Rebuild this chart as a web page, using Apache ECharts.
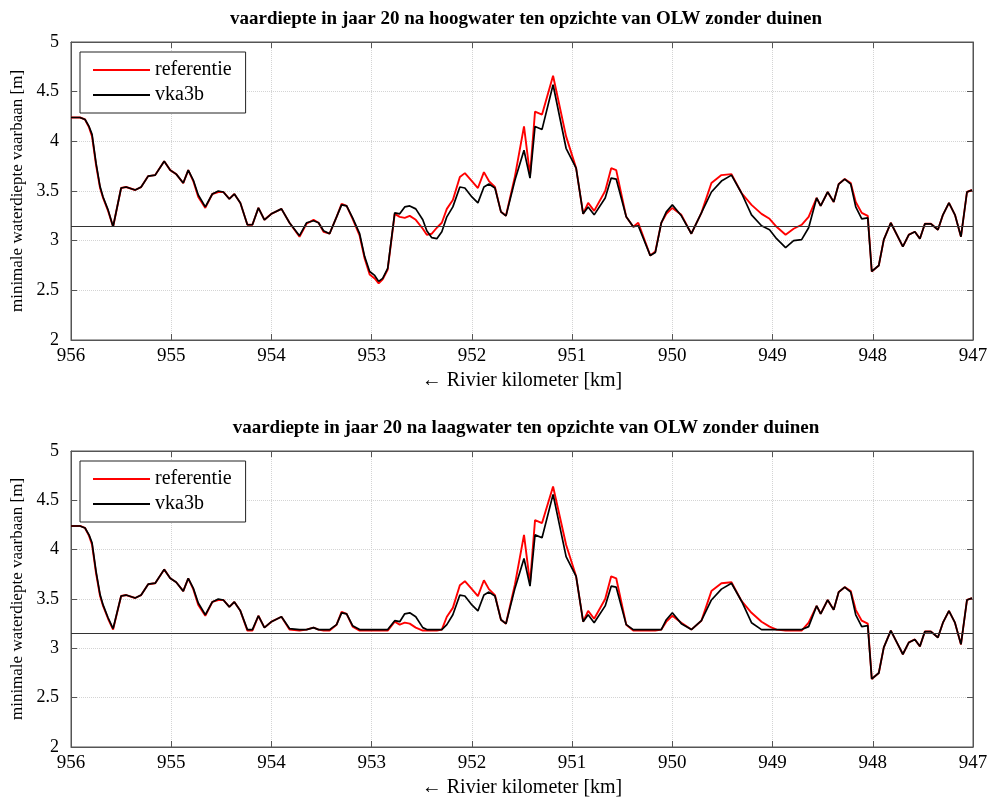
<!DOCTYPE html>
<html><head><meta charset="utf-8">
<script src="https://cdn.jsdelivr.net/npm/echarts@6/dist/echarts.min.js"></script>
<style>html,body{margin:0;padding:0;background:#fff}#c{width:995px;height:804px}</style>
</head><body><div id="c"></div>
<script>
// River kilometre positions (shared by all series)
const km = [956.00,955.91,955.86,955.82,955.79,955.75,955.71,955.68,955.63,955.58,
955.50,955.45,955.36,955.30,955.23,955.16,955.07,955.01,954.95,954.88,
954.83,954.78,954.73,954.66,954.59,954.53,954.48,954.42,954.37,954.31,
954.24,954.19,954.13,954.07,954.00,953.90,953.82,953.72,953.65,953.58,
953.53,953.48,953.42,953.35,953.30,953.25,953.19,953.12,953.07,953.02,
952.97,952.93,952.89,952.84,952.77,952.72,952.67,952.62,952.56,952.49,
952.45,952.40,952.35,952.30,952.25,952.19,952.12,952.07,952.00,951.94,
951.88,951.83,951.77,951.71,951.66,951.57,951.48,951.42,951.37,951.30,
951.19,951.06,950.96,950.89,950.84,950.78,950.67,950.61,950.56,950.46,
950.39,950.34,950.22,950.17,950.11,950.06,950.00,949.91,949.81,949.71,
949.61,949.51,949.41,949.31,949.21,949.11,949.03,948.96,948.87,948.79,
948.71,948.64,948.56,948.52,948.45,948.39,948.34,948.28,948.22,948.17,
948.11,948.05,948.01,947.94,947.89,947.82,947.76,947.70,947.64,947.58,
947.53,947.48,947.42,947.35,947.30,947.24,947.18,947.12,947.06,947.01];

// Top panel: hoogwater
const refHoog = [4.24,4.24,4.22,4.14,4.05,3.76,3.53,3.43,3.30,3.14,
3.53,3.54,3.51,3.54,3.65,3.66,3.80,3.71,3.67,3.58,
3.71,3.60,3.44,3.33,3.47,3.49,3.49,3.42,3.47,3.38,
3.16,3.16,3.33,3.21,3.27,3.32,3.18,3.04,3.17,3.21,
3.18,3.09,3.07,3.24,3.37,3.35,3.22,3.05,2.82,2.66,
2.62,2.57,2.61,2.71,3.27,3.24,3.23,3.25,3.21,3.12,
3.06,3.07,3.13,3.18,3.32,3.41,3.64,3.68,3.60,3.53,
3.69,3.60,3.54,3.29,3.25,3.65,4.15,3.66,4.30,4.27,
4.66,4.05,3.73,3.27,3.38,3.30,3.50,3.73,3.71,3.24,
3.14,3.18,2.85,2.89,3.18,3.27,3.33,3.26,3.07,3.28,
3.58,3.66,3.67,3.48,3.36,3.27,3.22,3.14,3.06,3.12,
3.16,3.24,3.43,3.35,3.49,3.39,3.57,3.62,3.58,3.39,
3.28,3.25,2.69,2.75,3.01,3.18,3.06,2.94,3.06,3.09,
3.02,3.17,3.17,3.11,3.26,3.38,3.26,3.04,3.49,3.51];
const vkaHoog = [4.24,4.24,4.22,4.15,4.07,3.78,3.545,3.44,3.31,3.14,
3.53,3.54,3.51,3.54,3.65,3.66,3.80,3.71,3.67,3.58,
3.71,3.61,3.46,3.34,3.47,3.50,3.49,3.42,3.47,3.38,
3.16,3.16,3.33,3.21,3.27,3.32,3.18,3.05,3.18,3.20,
3.18,3.10,3.07,3.24,3.36,3.35,3.23,3.07,2.84,2.69,
2.65,2.59,2.62,2.72,3.28,3.27,3.34,3.35,3.32,3.21,
3.10,3.03,3.02,3.09,3.24,3.34,3.54,3.53,3.44,3.38,
3.54,3.57,3.53,3.29,3.25,3.61,3.91,3.63,4.15,4.12,
4.57,3.93,3.73,3.27,3.34,3.26,3.43,3.63,3.62,3.24,
3.14,3.15,2.85,2.88,3.18,3.29,3.36,3.25,3.07,3.28,
3.49,3.60,3.66,3.48,3.26,3.15,3.11,3.02,2.93,3.00,
3.01,3.13,3.43,3.35,3.49,3.39,3.57,3.62,3.57,3.34,
3.22,3.23,2.69,2.75,3.01,3.18,3.06,2.94,3.06,3.09,
3.02,3.17,3.17,3.11,3.26,3.38,3.26,3.04,3.49,3.51];

// Bottom panel: laagwater
const refLaag = [4.24,4.24,4.22,4.14,4.05,3.76,3.53,3.43,3.30,3.19,
3.53,3.54,3.51,3.54,3.65,3.66,3.80,3.71,3.67,3.58,
3.71,3.60,3.44,3.33,3.47,3.49,3.49,3.42,3.47,3.38,
3.18,3.18,3.33,3.21,3.27,3.32,3.19,3.18,3.19,3.21,
3.19,3.18,3.18,3.24,3.37,3.35,3.22,3.18,3.18,3.18,
3.18,3.18,3.18,3.18,3.27,3.24,3.26,3.25,3.21,3.18,
3.18,3.18,3.18,3.19,3.32,3.41,3.64,3.68,3.60,3.53,
3.69,3.60,3.54,3.29,3.25,3.65,4.15,3.66,4.30,4.27,
4.64,4.05,3.73,3.27,3.38,3.30,3.50,3.73,3.71,3.24,
3.18,3.18,3.18,3.18,3.19,3.27,3.33,3.26,3.19,3.28,
3.58,3.66,3.67,3.48,3.36,3.27,3.22,3.19,3.18,3.18,
3.18,3.26,3.43,3.35,3.49,3.39,3.57,3.62,3.58,3.39,
3.28,3.25,2.69,2.75,3.01,3.18,3.06,2.94,3.06,3.09,
3.02,3.17,3.17,3.11,3.26,3.38,3.26,3.04,3.49,3.51];
const vkaLaag = [4.24,4.24,4.22,4.15,4.07,3.78,3.545,3.44,3.31,3.20,
3.53,3.54,3.51,3.54,3.65,3.66,3.80,3.71,3.67,3.58,
3.71,3.61,3.46,3.34,3.47,3.50,3.49,3.42,3.47,3.38,
3.19,3.19,3.33,3.21,3.27,3.32,3.20,3.19,3.19,3.21,
3.19,3.19,3.19,3.24,3.36,3.35,3.23,3.19,3.19,3.19,
3.19,3.19,3.19,3.19,3.28,3.27,3.35,3.36,3.32,3.21,
3.19,3.19,3.19,3.19,3.24,3.34,3.54,3.53,3.44,3.38,
3.54,3.57,3.53,3.29,3.25,3.61,3.91,3.63,4.15,4.12,
4.56,3.93,3.73,3.27,3.34,3.26,3.43,3.63,3.62,3.24,
3.19,3.19,3.19,3.19,3.19,3.29,3.36,3.25,3.19,3.28,
3.49,3.60,3.66,3.48,3.26,3.19,3.19,3.19,3.19,3.19,
3.19,3.22,3.43,3.35,3.49,3.39,3.57,3.62,3.57,3.34,
3.22,3.23,2.69,2.75,3.01,3.18,3.06,2.94,3.06,3.09,
3.02,3.17,3.17,3.11,3.26,3.38,3.26,3.04,3.49,3.51];

const refLevel = 3.15;
const titles = ['vaardiepte in jaar 20 na hoogwater ten opzichte van OLW zonder duinen',
                'vaardiepte in jaar 20 na laagwater ten opzichte van OLW zonder duinen'];
const seriesNames = ['referentie', 'vka3b'];
const xName = '\u2190 Rivier kilometer [km]';
const yName = 'minimale waterdiepte vaarbaan [m]';

const FONT = '"Liberation Serif","Times New Roman",serif';
const pair = arr => km.map((k, i) => [k, arr[i]]);

const grids = [
  {left: 71, right: 22, top: 42, height: 298},
  {left: 71, right: 22, top: 451, height: 296}
];
const panels = [[refHoog, vkaHoog], [refLaag, vkaLaag]];

const chart = echarts.init(document.getElementById('c'), null, {renderer: 'canvas'});
const opt = {
  animation: false,
  backgroundColor: '#fff',
  grid: grids.map(g => Object.assign({show: true, borderColor: '#555', borderWidth: 1, backgroundColor: 'transparent'}, g)),
  graphic: grids.map((g, i) => ({
    type: 'text', x: 526, y: g.top - 23,
    style: {text: titles[i], font: 'bold 19px ' + FONT, fill: '#000', align: 'center', verticalAlign: 'middle'}
  })),
  legend: grids.map(g => ({
    data: seriesNames, orient: 'vertical', left: 80, top: g.top + 10,
    icon: 'rect', itemWidth: 57, itemHeight: 2, itemGap: 5,
    backgroundColor: '#fff', borderColor: '#222', borderWidth: 1,
    padding: [8, 14, 8, 13],
    textStyle: {fontFamily: FONT, fontSize: 20, color: '#000', padding: [0, 0, 0, 0]}
  })),
  xAxis: [],
  yAxis: [],
  series: []
};

grids.forEach((g, i) => {
  const axLine = {show: true, lineStyle: {color: '#555', width: 1}};
  opt.xAxis.push({
    gridIndex: i, type: 'value', min: 947, max: 956, interval: 1, inverse: true,
    position: 'bottom',
    axisLine: axLine, axisTick: {show: true, inside: true, length: 6, lineStyle: {color: '#555'}},
    axisLabel: {fontFamily: FONT, fontSize: 19, color: '#000', margin: 7},
    splitLine: {show: true, lineStyle: {color: '#d4d4d4', type: 'dotted', width: 1}},
    name: xName, nameLocation: 'middle', nameGap: 31,
    nameTextStyle: {fontFamily: FONT, fontSize: 20, color: '#000'}
  });
  opt.xAxis.push({
    gridIndex: i, type: 'value', min: 947, max: 956, interval: 1, inverse: true,
    position: 'top',
    axisLine: axLine, axisTick: {show: true, inside: true, length: 6, lineStyle: {color: '#555'}},
    axisLabel: {show: false}, splitLine: {show: false}
  });
  opt.yAxis.push({
    gridIndex: i, type: 'value', min: 2, max: 5, interval: 0.5, position: 'left',
    axisLine: axLine, axisTick: {show: true, inside: true, length: 6, lineStyle: {color: '#555'}},
    axisLabel: {fontFamily: FONT, fontSize: 18, color: '#000', margin: 12},
    splitLine: {show: true, lineStyle: {color: '#d4d4d4', type: 'dotted', width: 1}},
    name: yName, nameLocation: 'middle', nameGap: 45, nameRotate: 90,
    nameTextStyle: {fontFamily: FONT, fontSize: 17, color: '#000'}
  });
  opt.yAxis.push({
    gridIndex: i, type: 'value', min: 2, max: 5, interval: 0.5, position: 'right',
    axisLine: axLine, axisTick: {show: true, inside: true, length: 6, lineStyle: {color: '#555'}},
    axisLabel: {show: false}, splitLine: {show: false}
  });
  const [ref, vka] = panels[i];
  opt.series.push({
    name: seriesNames[0], type: 'line', xAxisIndex: 2 * i, yAxisIndex: 2 * i,
    data: pair(ref), symbol: 'none', color: '#ff0000',
    lineStyle: {color: '#ff0000', width: 1.9}, z: 3
  });
  opt.series.push({
    name: seriesNames[1], type: 'line', xAxisIndex: 2 * i, yAxisIndex: 2 * i,
    data: pair(vka), symbol: 'none', color: '#000',
    lineStyle: {color: '#000', width: 1.7}, z: 4,
    markLine: {
      silent: true, symbol: 'none', label: {show: false},
      lineStyle: {color: '#333', width: 1, type: 'solid'},
      data: [{yAxis: refLevel}]
    }
  });
});

chart.setOption(opt);
</script></body></html>
